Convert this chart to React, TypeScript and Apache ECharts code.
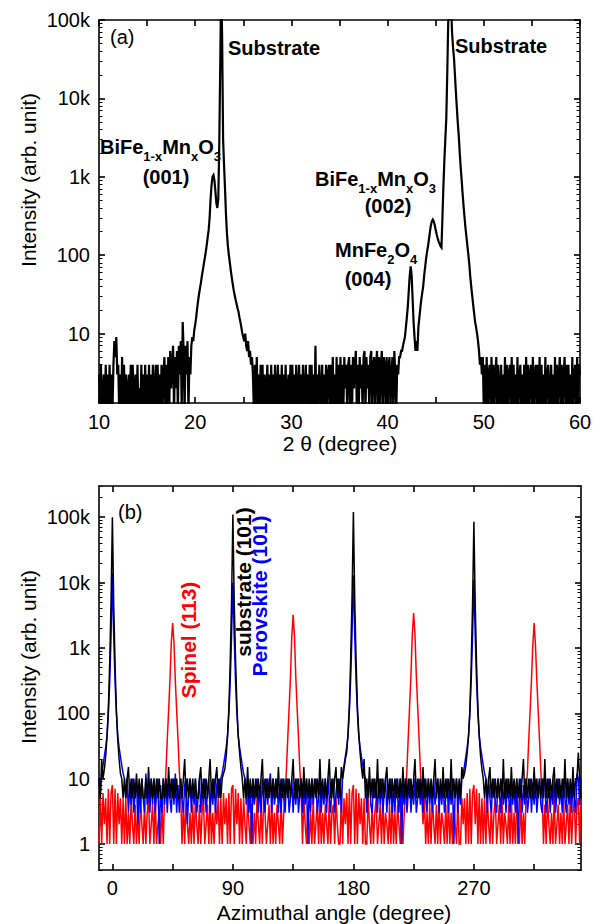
import React, { useEffect, useRef } from 'react';
import * as echarts from 'echarts';

// ---------- Panel (a): 2θ scan ----------
const TWO_THETA_START = 10;
const TWO_THETA_STEP = 0.1;
const topIntensity = [
  3, 1, 4, 1, 2, 3, 1, 4, 1, 3,
  1, 4, 1, 3, 1, 4, 8, 5, 9, 3,
  4, 1, 3, 1, 5, 1, 4, 1, 3, 2,
  1, 3, 1, 4, 1, 4, 2, 1, 3, 1,
  4, 1, 2, 1, 4, 1, 3, 1, 4, 1,
  3, 1, 4, 1, 3, 1, 4, 2, 1, 4,
  1, 4, 1, 3, 1, 4, 1, 3, 5, 1,
  4, 1, 5, 1, 6, 2, 4, 7, 1, 5,
  2, 6, 1, 7, 3, 8, 1, 14, 6, 1,
  7, 3, 8, 1, 5, 3, 7, 9, 8, 11,
  13, 16, 21, 26, 32, 38, 45, 55, 65, 78,
  92, 110, 135, 170, 210, 300, 520, 780, 1000, 1050,
  900, 650, 460, 400, 520, 2500, 25000, 300000, 60000, 3000,
  1400, 700, 330, 190, 130, 100, 80, 64, 52, 43,
  36, 31, 27, 24, 21, 19, 16, 14, 12, 10,
  9, 8, 10, 7, 6, 8, 5, 6, 4, 5,
  3, 1, 4, 1, 5, 1, 3, 1, 4, 1,
  4, 1, 3, 1, 2, 4, 1, 3, 1, 4,
  1, 3, 1, 4, 1, 2, 4, 1, 3, 1,
  4, 1, 3, 1, 4, 1, 2, 3, 1, 4,
  1, 4, 1, 3, 1, 4, 1, 2, 4, 1,
  3, 1, 4, 1, 2, 4, 1, 3, 1, 4,
  1, 4, 1, 3, 1, 7, 1, 3, 1, 4,
  2, 1, 4, 1, 3, 1, 4, 1, 3, 4,
  1, 4, 1, 5, 1, 3, 1, 5, 1, 4,
  1, 5, 1, 4, 1, 5, 2, 4, 1, 4,
  5, 1, 4, 1, 5, 2, 4, 6, 1, 4,
  1, 5, 2, 4, 1, 5, 6, 1, 5, 2,
  4, 1, 5, 6, 1, 4, 5, 1, 4, 6,
  1, 5, 1, 4, 6, 1, 5, 4, 1, 5,
  1, 4, 5, 1, 3, 5, 1, 6, 3, 1,
  4, 3, 5, 5, 6, 6, 7, 8, 9, 12,
  16, 22, 35, 55, 72, 55, 28, 14, 9, 6,
  8, 6, 12, 16, 21, 27, 33, 40, 55, 70,
  90, 110, 130, 160, 200, 240, 270, 285, 270, 240,
  210, 185, 165, 150, 140, 130, 125, 300, 750, 1600,
  3000, 5500, 20000, 90000, 300000, 300000, 150000, 70000, 45000, 33000,
  20000, 12000, 7500, 4800, 3300, 2000, 1300, 900, 600, 420,
  300, 220, 170, 130, 100, 75, 52, 39, 30, 23,
  18, 14, 12, 10, 8, 6, 4, 5, 3, 5,
  1, 4, 1, 5, 1, 3, 4, 1, 5, 1,
  4, 1, 3, 5, 1, 4, 1, 2, 4, 1,
  3, 1, 5, 1, 4, 1, 3, 4, 1, 5,
  1, 4, 1, 3, 1, 5, 1, 3, 4, 1,
  3, 1, 4, 1, 5, 1, 4, 1, 3, 4,
  1, 5, 1, 3, 4, 1, 4, 1, 5, 1,
  4, 1, 3, 1, 5, 1, 3, 4, 1, 2,
  4, 1, 3, 1, 5, 1, 4, 1, 3, 5,
  1, 4, 1, 3, 5, 1, 4, 1, 4, 1,
  3, 1, 5, 1, 3, 4, 1, 5, 1, 4,
  3,
];

// ---------- Panel (b): phi scans ----------
const PHI_START = -10;
const PHI_STEP = 1;
const substrate101 = [
  10, 5, 20, 10, 14, 22, 45, 120, 600, 5000,
  100000, 4500, 550, 110, 40, 20, 12, 10, 5, 10,
  5, 10, 15, 5, 10, 5, 10, 5, 12, 5,
  10, 5, 10, 5, 5, 10, 5, 15, 5, 10,
  5, 10, 5, 10, 5, 10, 5, 5, 10, 5,
  10, 5, 15, 5, 10, 5, 10, 5, 10, 5,
  5, 10, 5, 10, 20, 5, 10, 5, 10, 5,
  10, 5, 10, 5, 5, 10, 15, 5, 10, 5,
  10, 5, 10, 20, 5, 10, 5, 10, 15, 5,
  10, 5, 10, 12, 14, 22, 45, 120, 600, 5000,
  110000, 5000, 650, 130, 45, 25, 15, 10, 5, 10,
  5, 15, 5, 10, 5, 10, 5, 10, 5, 10,
  5, 10, 20, 5, 10, 5, 10, 5, 10, 5,
  10, 5, 10, 5, 15, 5, 10, 5, 10, 5,
  10, 5, 10, 5, 10, 20, 5, 10, 5, 10,
  5, 10, 5, 15, 5, 10, 5, 10, 5, 10,
  5, 10, 5, 10, 5, 20, 5, 10, 5, 10,
  5, 10, 20, 5, 10, 5, 10, 15, 5, 10,
  5, 15, 10, 14, 20, 25, 50, 130, 700, 6000,
  120000, 5500, 650, 130, 50, 25, 15, 10, 20, 5,
  10, 5, 15, 5, 10, 5, 10, 5, 20, 5,
  10, 5, 10, 5, 10, 15, 5, 10, 5, 10,
  5, 10, 5, 10, 5, 10, 5, 15, 5, 10,
  5, 10, 5, 10, 5, 10, 20, 5, 10, 5,
  10, 5, 15, 5, 10, 5, 10, 5, 10, 5,
  10, 20, 5, 10, 5, 10, 5, 15, 5, 10,
  5, 10, 5, 20, 5, 10, 5, 10, 5, 10,
  5, 15, 10, 12, 16, 25, 45, 110, 550, 4500,
  85000, 4500, 550, 120, 45, 22, 14, 10, 5, 10,
  5, 10, 15, 5, 10, 5, 10, 5, 10, 5,
  10, 5, 20, 5, 10, 5, 10, 5, 15, 5,
  10, 5, 10, 5, 10, 5, 10, 20, 5, 10,
  5, 10, 5, 10, 5, 15, 5, 10, 5, 10,
  5, 10, 5, 20, 5, 10, 5, 10, 5, 10,
  15, 5, 10, 5, 10, 5, 10, 5, 20, 5,
  10, 5, 10, 5, 15, 5, 10, 10, 25, 10,
  5,
];
const perovskite101 = [
  10, 6, 12, 16, 22, 30, 45, 100, 300, 1500,
  14000, 1500, 300, 100, 45, 30, 22, 16, 12, 10,
  5, 10, 3, 8, 4, 10, 3, 6, 10, 2,
  8, 3, 10, 5, 3, 12, 4, 8, 3, 10,
  4, 10, 3, 6, 10, 1, 8, 3, 10, 4,
  10, 3, 8, 5, 3, 10, 4, 12, 3, 8,
  3, 10, 5, 3, 8, 10, 2, 6, 10, 3,
  8, 4, 10, 3, 5, 10, 3, 8, 4, 10,
  3, 6, 10, 3, 8, 4, 10, 3, 8, 10,
  5, 10, 12, 16, 22, 30, 45, 100, 300, 1500,
  10000, 1400, 300, 100, 45, 30, 22, 16, 12, 10,
  4, 10, 3, 8, 1, 10, 4, 6, 10, 3,
  8, 3, 10, 5, 3, 10, 4, 8, 12, 3,
  10, 4, 6, 10, 3, 8, 3, 10, 5, 3,
  8, 10, 3, 5, 10, 3, 8, 4, 10, 3,
  6, 10, 3, 8, 4, 10, 1, 8, 3, 10,
  4, 8, 10, 3, 5, 10, 3, 8, 4, 10,
  3, 10, 5, 3, 8, 10, 3, 6, 10, 4,
  10, 3, 12, 16, 22, 30, 45, 110, 350, 1700,
  13000, 1600, 320, 100, 45, 30, 22, 16, 12, 10,
  3, 8, 10, 4, 3, 10, 5, 8, 3, 10,
  4, 10, 3, 6, 10, 3, 8, 4, 10, 3,
  8, 3, 10, 5, 3, 10, 1, 8, 4, 10,
  3, 6, 10, 3, 8, 4, 10, 3, 5, 10,
  4, 8, 3, 10, 5, 3, 10, 4, 8, 3,
  10, 4, 6, 10, 3, 8, 4, 10, 3, 5,
  10, 3, 8, 4, 10, 1, 6, 10, 3, 8,
  4, 10, 12, 16, 22, 30, 45, 100, 320, 1500,
  11000, 1500, 300, 100, 45, 30, 22, 16, 12, 10,
  3, 10, 5, 3, 8, 10, 4, 3, 10, 6,
  3, 10, 4, 8, 3, 10, 5, 3, 10, 4,
  8, 3, 10, 1, 6, 10, 3, 8, 4, 10,
  3, 5, 10, 3, 8, 4, 10, 3, 6, 10,
  4, 3, 10, 8, 3, 5, 10, 3, 8, 4,
  10, 3, 6, 10, 4, 8, 3, 10, 5, 3,
  10, 4, 8, 3, 10, 5, 3, 12, 10, 4,
  10,
];
const spinel113 = [
  1, 5, 1, 6, 2, 5, 1, 7, 1, 6,
  8, 1, 7, 1, 6, 2, 5, 1, 5, 1,
  5, 1, 3, 1, 5, 2, 1, 4, 1, 3,
  1, 5, 2, 1, 4, 1, 3, 5, 1, 2,
  4, 1, 5, 1, 2, 3, 1, 4, 1, 6,
  13, 40, 110, 320, 1200, 2400, 1200, 320, 110, 40,
  13, 6, 1, 4, 1, 5, 2, 1, 3, 1,
  4, 1, 5, 2, 1, 4, 1, 3, 5, 1,
  2, 4, 1, 5, 1, 3, 1, 4, 2, 5,
  1, 5, 1, 6, 2, 5, 1, 6, 1, 7,
  8, 1, 7, 2, 6, 1, 5, 1, 5, 2,
  1, 5, 2, 1, 4, 1, 3, 1, 5, 2,
  1, 4, 1, 5, 3, 1, 2, 4, 1, 5,
  1, 3, 1, 4, 2, 1, 5, 1, 3, 6,
  14, 42, 120, 350, 1500, 3200, 1500, 350, 120, 42,
  14, 6, 1, 5, 2, 1, 4, 1, 3, 1,
  5, 1, 2, 4, 1, 5, 1, 3, 1, 4,
  2, 1, 5, 1, 3, 4, 1, 5, 2, 1,
  1, 5, 1, 5, 2, 6, 1, 7, 1, 6,
  8, 1, 7, 1, 6, 2, 5, 1, 5, 1,
  1, 5, 2, 1, 4, 1, 3, 5, 1, 2,
  4, 1, 5, 1, 3, 2, 1, 4, 1, 5,
  1, 3, 1, 4, 2, 1, 5, 1, 3, 6,
  14, 44, 130, 380, 1600, 3400, 1600, 380, 130, 44,
  14, 6, 2, 5, 1, 3, 1, 4, 1, 5,
  2, 1, 4, 1, 5, 1, 3, 2, 1, 4,
  1, 5, 1, 3, 1, 4, 2, 1, 5, 1,
  1, 5, 2, 5, 1, 6, 1, 7, 1, 6,
  8, 2, 7, 1, 6, 1, 5, 1, 5, 1,
  5, 2, 1, 4, 1, 3, 5, 1, 2, 4,
  1, 5, 1, 3, 2, 1, 4, 1, 5, 1,
  3, 1, 4, 2, 1, 5, 1, 3, 1, 6,
  13, 40, 110, 320, 1100, 2400, 1100, 320, 110, 40,
  13, 6, 1, 4, 1, 5, 2, 1, 3, 1,
  5, 1, 2, 4, 1, 3, 1, 5, 1, 2,
  4, 1, 5, 1, 3, 5, 1, 4, 5, 1,
  5,
];

// ---------- Axis ticks ----------
const topXRange = [10, 60];
const topXTicks = [10, 15, 20, 25, 30, 35, 40, 45, 50, 55, 60];
const topXLabels = [10, 20, 30, 40, 50, 60];
const topYRange = [1.3, 100000];
const topYMajor = [10, 100, 1000, 10000, 100000];
const topYMinor = [
  2, 3, 4, 5, 6, 7, 8, 9,
  20, 30, 40, 50, 60, 70, 80, 90,
  200, 300, 400, 500, 600, 700, 800, 900,
  2000, 3000, 4000, 5000, 6000, 7000, 8000, 9000,
  20000, 30000, 40000, 50000, 60000, 70000, 80000, 90000,
];
const botXRange = [-10, 350];
const botXTicks = [0, 45, 90, 135, 180, 225, 270, 315];
const botXLabels = [0, 90, 180, 270];
const botYRange = [0.4, 300000];
const botYMajor = [1, 10, 100, 1000, 10000, 100000];
const botYMinor = [
  0.4, 0.5, 0.6, 0.7, 0.8, 0.9,
  2, 3, 4, 5, 6, 7, 8, 9,
  20, 30, 40, 50, 60, 70, 80, 90,
  200, 300, 400, 500, 600, 700, 800, 900,
  2000, 3000, 4000, 5000, 6000, 7000, 8000, 9000,
  20000, 30000, 40000, 50000, 60000, 70000, 80000, 90000,
  200000, 300000,
];

const FONT = 'Liberation Sans, Arial, Helvetica, sans-serif';
const AXIS_LINE = { color: '#000', width: 1.6 };

function fmtIntensity(v: number) {
  if (v >= 1000) return Math.round(v / 1000) + 'k';
  return String(Math.round(v));
}

function xAxesFor(grid: number, range: number[], ticks: number[], labels: number[], margin: number) {
  const base = {
    type: 'value',
    gridIndex: grid,
    min: range[0],
    max: range[1],
    axisLine: { show: true, onZero: false, lineStyle: AXIS_LINE },
    axisTick: { show: true, inside: true, length: 6, customValues: ticks, lineStyle: AXIS_LINE },
    splitLine: { show: false },
  };
  return [
    {
      ...base,
      position: 'bottom',
      axisLabel: { show: true, customValues: labels, margin, color: '#000', fontSize: 20, fontFamily: FONT },
    },
    { ...base, position: 'top', axisLabel: { show: false } },
  ];
}

function yAxesFor(grid: number, range: number[], major: number[], minor: number[]) {
  const base = {
    type: 'log',
    logBase: 10,
    gridIndex: grid,
    min: range[0],
    max: range[1],
    splitLine: { show: false },
  };
  const majorAxis = (pos: string, labels: boolean) => ({
    ...base,
    position: pos,
    axisLine: { show: true, onZero: false, lineStyle: AXIS_LINE },
    axisTick: { show: true, inside: true, length: 6, customValues: major, lineStyle: AXIS_LINE },
    axisLabel: labels
      ? { show: true, customValues: major, margin: 9, color: '#000', fontSize: 20, fontFamily: FONT, formatter: fmtIntensity }
      : { show: false },
  });
  const minorAxis = (pos: string) => ({
    ...base,
    position: pos,
    axisLine: { show: false, onZero: false },
    axisTick: { show: true, inside: true, length: 3.5, customValues: minor, lineStyle: { color: '#000', width: 1 } },
    axisLabel: { show: false },
  });
  return [majorAxis('left', true), minorAxis('left'), majorAxis('right', false), minorAxis('right')];
}

const richMain = { fontSize: 20, fontWeight: 'bold', fontFamily: FONT, lineHeight: 20, verticalAlign: 'top', fill: '#000' };
const richSub = { fontSize: 13, fontWeight: 'bold', fontFamily: FONT, lineHeight: 13, padding: [13, 0, 0, 0], verticalAlign: 'top', fill: '#000' };

function label(x: number, y: number, text: string, opts: any = {}) {
  const align = opts.align || 'left';
  const vAlign = opts.vAlign || 'middle';
  return {
    type: 'text',
    x,
    y,
    rotation: opts.rotation || 0,
    silent: true,
    z: 100,
    style: {
      text,
      fill: opts.color || '#000',
      fontSize: opts.fontSize || 20,
      fontWeight: opts.bold ? 'bold' : 'normal',
      fontFamily: FONT,
      align,
      textAlign: align,
      verticalAlign: vAlign,
      textVerticalAlign: vAlign,
      rich: opts.rich,
    },
  };
}

const FORMULA_BFMO = '{m|BiFe}{s|1-x}{m|Mn}{s|x}{m|O}{s|3}';
const FORMULA_MFO = '{m|MnFe}{s|2}{m|O}{s|4}';

export default function App() {
  const ref = useRef<HTMLDivElement>(null);

  useEffect(() => {
    if (!ref.current) return;
    const chart = echarts.init(ref.current, undefined, { renderer: 'svg' });

    const topData = topIntensity.map((v, i) => [+(TWO_THETA_START + i * TWO_THETA_STEP).toFixed(2), v]);
    const phi = (i: number) => PHI_START + i * PHI_STEP;
    const spinelData = spinel113.map((v, i) => [phi(i), v]);
    const perovData = perovskite101.map((v, i) => [phi(i), v]);
    const subData = substrate101.map((v, i) => [phi(i), v]);

    const rich = { m: richMain, s: richSub };
    const lineSeries = (name: string, xi: number, yi: number, data: any[], color: string, width: number) => ({
      type: 'line',
      name,
      xAxisIndex: xi,
      yAxisIndex: yi,
      data,
      showSymbol: false,
      symbol: 'none',
      clip: true,
      silent: true,
      lineStyle: { color, width, join: 'miter' },
    });

    const option: any = {
      animation: false,
      backgroundColor: '#fff',
      textStyle: { fontFamily: FONT },
      grid: [
        { left: 99, top: 20, width: 481, height: 383 },
        { left: 99, top: 486, width: 482, height: 384 },
      ],
      xAxis: [
        ...xAxesFor(0, topXRange, topXTicks, topXLabels, 9),
        ...xAxesFor(1, botXRange, botXTicks, botXLabels, 8),
      ],
      yAxis: [
        ...yAxesFor(0, topYRange, topYMajor, topYMinor),
        ...yAxesFor(1, botYRange, botYMajor, botYMinor),
      ],
      series: [
        lineSeries('2theta', 0, 0, topData, '#000', 2.2),
        lineSeries('Spinel (113)', 2, 4, spinelData, '#ff0000', 1.5),
        lineSeries('Perovskite (101)', 2, 4, perovData, '#0000ff', 1.5),
        lineSeries('substrate (101)', 2, 4, subData, '#000', 1.5),
      ],
      graphic: {
        elements: [
          label(110, 37, '(a)'),
          label(228, 48, 'Substrate', { bold: true }),
          label(455, 46, 'Substrate', { bold: true }),
          label(100, 137, FORMULA_BFMO, { vAlign: 'top', rich }),
          label(166, 177, '(001)', { bold: true, align: 'center' }),
          label(315, 169, FORMULA_BFMO, { vAlign: 'top', rich }),
          label(388, 206, '(002)', { bold: true, align: 'center' }),
          label(335, 240, FORMULA_MFO, { vAlign: 'top', rich }),
          label(368, 279, '(004)', { bold: true, align: 'center' }),
          label(28, 180, 'Intensity (arb. unit)', { align: 'center', fontSize: 21, rotation: Math.PI / 2 }),
          label(340, 443, '2 θ (degree)', { align: 'center', fontSize: 21 }),
          label(118, 512, '(b)'),
          label(188, 640, 'Spinel (113)', { align: 'center', bold: true, fontSize: 21, color: '#ff0000', rotation: Math.PI / 2 }),
          label(243, 582, 'substrate (101)', { align: 'center', bold: true, fontSize: 21, color: '#000', rotation: Math.PI / 2 }),
          label(259, 596, 'Perovskite (101)', { align: 'center', bold: true, fontSize: 21, color: '#0000ff', rotation: Math.PI / 2 }),
          label(28, 657, 'Intensity (arb. unit)', { align: 'center', fontSize: 21, rotation: Math.PI / 2 }),
          label(334, 912, 'Azimuthal angle (degree)', { align: 'center', fontSize: 21 }),
        ],
      },
    };

    chart.setOption(option);
    return () => chart.dispose();
  }, []);

  return <div ref={ref} style={{ position: 'absolute', left: 0, top: 0, width: 602, height: 924 }} />;
}
